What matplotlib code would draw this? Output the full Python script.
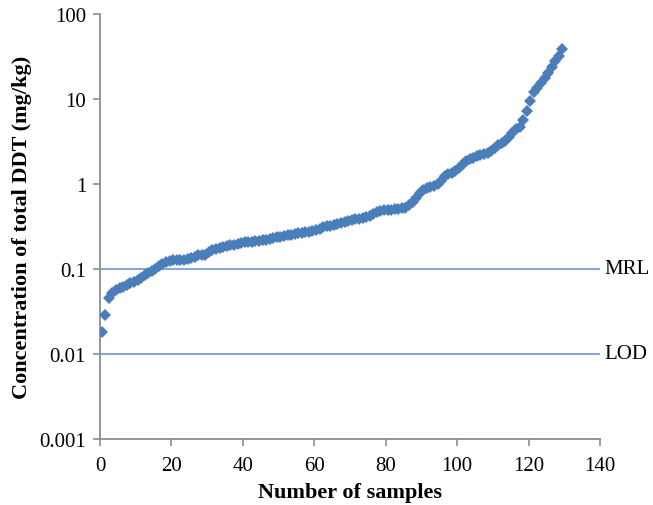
import matplotlib
matplotlib.use("Agg")
import matplotlib.pyplot as plt

samples = list(range(0, 130))
ddt = [
    0.018, 0.029, 0.045, 0.052, 0.057, 0.059, 0.062, 0.065, 0.068, 0.071,
    0.074, 0.078, 0.084, 0.090, 0.095, 0.100, 0.108, 0.116, 0.122, 0.124,
    0.126, 0.127, 0.128, 0.129, 0.131, 0.134, 0.140, 0.145, 0.146, 0.148,
    0.160, 0.166, 0.172, 0.178, 0.183, 0.187, 0.190, 0.194, 0.198, 0.202,
    0.206, 0.208, 0.210, 0.213, 0.215, 0.218, 0.222, 0.227, 0.232, 0.236,
    0.240, 0.245, 0.250, 0.254, 0.258, 0.263, 0.268, 0.272, 0.276, 0.280,
    0.285, 0.295, 0.308, 0.318, 0.324, 0.330, 0.340, 0.352, 0.362, 0.370,
    0.378, 0.385, 0.392, 0.398, 0.405, 0.420, 0.440, 0.465, 0.485, 0.492,
    0.497, 0.500, 0.505, 0.510, 0.518, 0.528, 0.560, 0.610, 0.680, 0.780,
    0.860, 0.890, 0.920, 0.950, 1.000, 1.080, 1.250, 1.320, 1.360, 1.420,
    1.550, 1.700, 1.850, 1.950, 2.050, 2.150, 2.200, 2.260, 2.330, 2.450,
    2.650, 2.850, 3.000, 3.200, 3.600, 4.000, 4.400, 4.700, 5.600, 7.200,
    9.500, 12.0, 13.5, 15.5, 17.5, 20.5, 23.5, 28.0, 32.0, 39.0,
]
mrl = 0.1
lod = 0.01
x_ticks = [0, 20, 40, 60, 80, 100, 120, 140]
y_ticks = [0.001, 0.01, 0.1, 1, 10, 100]
y_tick_labels = ["0.001", "0.01", "0.1", "1", "10", "100"]

plt.rcParams['font.family'] = ['Liberation Serif', 'DejaVu Serif']

fig = plt.figure(figsize=(6.53, 5.06), dpi=100)
ax = fig.add_axes([100/653, 1-440/506, 500/653, 425/506])

blue = "#4A7EBB"
line_blue = "#6F97CF"
ax.plot([0, 140], [mrl, mrl], color=line_blue, lw=1.2, zorder=2)
ax.plot([0, 140], [lod, lod], color=line_blue, lw=1.2, zorder=2)
ax.plot([s + 0.5 for s in samples], ddt, linestyle="none", marker="D",
        markersize=5.8, color=blue, markeredgewidth=0, zorder=3)

ax.set_yscale("log")
ax.set_xlim(0, 140)
ax.set_ylim(0.001, 100)
ax.set_xticks(x_ticks)
ax.set_xticklabels([str(t) for t in x_ticks])
ax.set_yticks(y_ticks)
ax.set_yticklabels(y_tick_labels)
ax.minorticks_off()

for s in ["top", "right"]:
    ax.spines[s].set_visible(False)
for s in ["left", "bottom"]:
    ax.spines[s].set_color("#8C8C8C")
    ax.spines[s].set_linewidth(1.3)
ax.tick_params(axis="both", direction="out", length=5, width=1.2,
               color="#8C8C8C", labelsize=15, pad=5)
ax.tick_params(axis="x", pad=7)

ax.text(141.2, mrl, "MRL", fontsize=15, va="center", ha="left", clip_on=False)
ax.text(141.2, lod, "LOD", fontsize=15, va="center", ha="left", clip_on=False)

ax.set_xlabel("Number of samples", fontsize=16, fontweight="bold", labelpad=5)
ax.set_ylabel("Concentration of total DDT (mg/kg)", fontsize=16,
              fontweight="bold", labelpad=5)

fig.savefig("out.png", dpi=100)
